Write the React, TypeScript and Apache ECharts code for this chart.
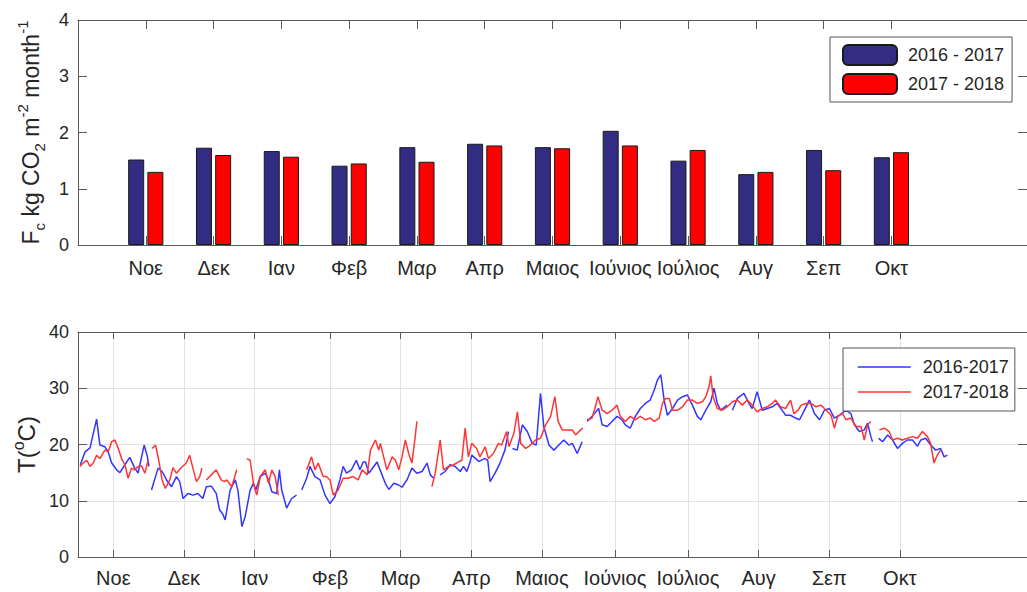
import React, { useEffect, useRef } from 'react';
import * as echarts from 'echarts';

const MONTHS = ['Νοε', 'Δεκ', 'Ιαν', 'Φεβ', 'Μαρ', 'Απρ', 'Μαιος', 'Ιούνιος', 'Ιούλιος', 'Αυγ', 'Σεπ', 'Οκτ'];
const FC_POS = [1, 2, 3, 4, 5, 6, 7, 8, 9, 10, 11, 12];
const FC_2016_2017 = [1.52, 1.73, 1.67, 1.41, 1.74, 1.80, 1.74, 2.03, 1.50, 1.26, 1.69, 1.56];
const FC_2017_2018 = [1.30, 1.60, 1.57, 1.45, 1.48, 1.77, 1.72, 1.77, 1.69, 1.30, 1.33, 1.65];
const T_TICK_DAYS = [15, 45, 75, 107, 137, 167, 197, 228, 259, 289, 319, 349];

// [day since start, temperature °C]; null = gap in record
const T_2016_2017: [number, number | null][] = [
  [1, 16.4], [3, 18.7], [5.1, 19.4], [7.9, 24.5], [9.3, 19.9], [11.4, 19.6], [12.8, 18.7], [14.3, 16.7], [16.4, 15.5], [17.8, 15.0],
  [19.9, 16.4], [22, 17.7], [24.1, 15.8], [25.5, 14.9], [27, 17.8], [28.1, 19.9], [29.5, 17.8], [30.1, 16.1], [30.6, null], [31.2, 11.9],
  [34, 15.8], [35.7, 15.2], [37.6, 13.7], [39.7, 12.5], [41.8, 14.3], [43.2, 13.4], [44.6, 10.4], [46.7, 11.3], [48.8, 11.0], [50.9, 11.3],
  [53, 10.4], [54.5, 12.5], [56.6, 12.6], [58.7, 11.3], [60.1, 8.4], [61.5, 7.6], [62.5, 6.6], [64.6, 11.9], [66.8, 13.7], [67.9, 11.9],
  [69.6, 5.4], [71, 7.2], [73.1, 11.9], [74.5, 13.1], [75.5, 11.9], [77.4, 14.3], [79.5, 14.9], [80.9, 13.7], [82.3, 11.6], [84.4, 11.3],
  [85.5, 15.5], [86.5, 11.9], [88.6, 8.7], [90.7, 10.4], [92.8, 11.0], [93.9, null], [95, 11.9], [97.1, 14.0], [98.5, 16.1], [100.6, 14.3],
  [102.8, 13.7], [104.9, 11.0], [107, 9.5], [109.1, 10.7], [111.2, 13.7], [112.6, 16.1], [114, 14.9], [116.1, 15.5], [118.2, 17.2], [119.7, 15.5],
  [121.1, 16.9], [122.1, 16.9], [123.5, 14.9], [125.6, 16.1], [127, 16.9], [129.1, 14.6], [130.5, 13.1], [132, 12.0], [134.1, 13.1], [136.2, 12.8],
  [137.6, 12.4], [139.7, 13.7], [141.8, 15.8], [143.9, 14.9], [146.1, 15.2], [148.2, 16.7], [149.6, 14.6], [151, 14.0], [152.4, null], [153.8, 14.6],
  [155.9, 15.2], [158, 16.4], [160.2, 16.1], [162.3, 15.2], [163.7, 16.1], [165.1, 15.2], [166.5, 16.9], [167.2, 18.1], [170.2, 17.0], [172.7, 17.5],
  [174, 17.2], [175, 13.4], [177.1, 14.9], [179.2, 16.7], [181.3, 19.0], [182.8, 22.3], [183.6, null], [184.5, 19.3], [186.5, 19.0], [188.7, 23.5],
  [190.8, 22.3], [192.9, 20.2], [194.6, 19.9], [196.4, 29.1], [197.8, 23.2], [200, 19.9], [202.1, 19.0], [204.2, 19.9], [206.3, 20.8], [208.4, 19.9],
  [209.9, 20.2], [212, 18.4], [214.1, 20.5], [215.1, null], [216.2, 24.1], [218.3, 25.0], [221.1, 26.4], [222.6, 23.5], [224.7, 23.2], [226.8, 24.1],
  [228.9, 25.0], [231, 24.4], [232.4, 23.5], [234.5, 22.9], [236.7, 25.0], [238.8, 26.4], [240.9, 27.3], [243, 27.9], [244.7, 29.7], [246.1, 31.5],
  [247.5, 32.4], [248.9, 27.9], [250.3, 25.2], [252.5, 26.4], [254.6, 27.9], [256.7, 28.5], [258.8, 28.8], [260.9, 27.0], [263, 25.0], [264.5, 24.4],
  [266.6, 26.1], [268.7, 27.6], [270.1, 30.0], [271.5, 27.3], [272.9, 26.1], [275.7, 27.0], [276.8, null], [277.9, 26.1], [280, 28.2], [282.8, 29.1],
  [284.9, 27.3], [286.3, 26.4], [288.4, 29.4], [290.6, 26.1], [292.7, 26.4], [294.8, 26.7], [296.9, 27.3], [299, 26.1], [300.5, 25.2], [302.6, 25.2],
  [304.7, 24.7], [306.4, 24.4], [308.5, 26.1], [310.6, 27.9], [312.7, 25.5], [314.9, 24.4], [317, 26.1], [319.1, 26.4], [321.2, 24.7], [323.3, 25.2],
  [326.1, 26.1], [328.2, 25.5], [329.7, 23.5], [331.8, 22.3], [333.9, 22.6], [335.3, 23.8], [336.7, 21.4], [337.4, 20.5], [338.7, null], [340, 21.1],
  [341.7, 20.5], [343.8, 21.7], [345.9, 20.8], [348, 19.3], [350.1, 20.2], [352.2, 20.8], [354.4, 20.8], [356.5, 19.7], [357.9, 20.8], [360, 21.1],
  [362.1, 19.9], [364.2, 19.0], [366.3, 19.3], [367.8, 17.8], [369.2, 18.1],
];

const T_2017_2018: [number, number | null][] = [
  [0.8, 16.1], [2.2, 16.7], [3.7, 17.2], [5.1, 16.1], [6.5, 16.7], [7.9, 18.1], [9.3, 17.5], [11.4, 19.0], [12.8, 18.7], [14.3, 20.5],
  [15.7, 20.8], [17.1, 19.3], [18.5, 17.5], [19.9, 16.4], [21.3, 14.0], [22.7, 15.8], [24.1, 15.5], [25.5, 16.1], [27, 16.2], [28.4, 14.9],
  [29.8, 17.2], [30.6, null], [31.5, 19.3], [32.9, 19.9], [34.3, 17.2], [35.7, 13.7], [37.1, 12.2], [39, 13.7], [40.3, 15.9], [41.8, 14.9],
  [43.9, 15.9], [46, 16.7], [47.4, 18.1], [48.8, 15.8], [50.3, 13.4], [51.7, 14.3], [52.6, 15.8], [53.5, null], [54.5, 13.7], [56.6, 14.6],
  [58.7, 15.5], [60.8, 13.7], [62.2, 13.4], [63.2, 13.7], [65.3, 12.5], [67.4, 15.5], [69.5, null], [71.7, 17.5], [73.1, 17.2], [74.5, 13.1],
  [75.9, 11.0], [77.4, 14.3], [79.5, 15.5], [80.9, 13.1], [82.3, 15.5], [83.7, 14.3], [85.1, 11.0], [90, null], [97.1, 15.5], [99.2, 17.8],
  [100.6, 15.5], [102, 16.7], [104.1, 14.3], [105.5, 14.3], [107, 13.7], [108.4, 11.0], [110.5, 11.9], [112.6, 14.0], [114.7, 14.0], [116.8, 14.3],
  [119, 13.7], [120.7, 15.5], [122.8, 14.6], [124.2, 19.0], [126.3, 20.8], [127.7, 19.0], [128.4, 20.2], [129.8, 17.8], [131.2, 15.5], [133.4, 17.8],
  [134.8, 17.2], [136.2, 15.5], [137.6, 17.8], [139, 20.8], [140.4, 18.4], [141.8, 16.7], [143.2, 21.4], [143.9, 24.1], [147, null], [150.3, 12.5],
  [151.7, 14.9], [153.8, 20.8], [155.2, 15.5], [157.4, 16.1], [159.5, 16.4], [161.6, 16.9], [163, 17.2], [164.4, 22.9], [165.8, 17.8], [167.2, 20.2],
  [169.3, 19.3], [170.7, 17.8], [172.9, 19.6], [174.3, 17.5], [176.4, 18.4], [178.5, 20.2], [179.9, 19.9], [182, 22.3], [183, 19.6], [185.1, 22.0],
  [186.6, 25.8], [188, 20.2], [190.1, 19.3], [192.2, 19.9], [194.3, 20.8], [196.4, 21.1], [198.6, 23.5], [200.7, 25.0], [202.5, 28.5], [203.9, 24.1],
  [205.6, 22.6], [207.7, 22.6], [209.9, 22.6], [211.3, 21.7], [213.4, 22.6], [214.4, 22.9], [215.3, null], [216.2, 24.4], [218.3, 24.7], [219.7, 26.7],
  [220.8, 28.5], [222.6, 26.1], [224.7, 25.5], [226.8, 26.1], [228.9, 27.0], [230.3, 25.0], [232.4, 24.1], [234.5, 25.0], [236.7, 24.4], [238.8, 25.0],
  [240.9, 24.4], [243, 24.7], [244.7, 24.1], [246.8, 24.7], [248.2, 27.3], [249.6, 28.2], [251.1, 28.2], [252.5, 26.1], [254.6, 26.1], [256.7, 26.7],
  [258.8, 27.9], [260.9, 27.9], [263, 27.3], [265.2, 27.6], [266.6, 28.5], [268, 30.3], [268.7, 32.2], [269.7, 28.5], [271.5, 26.4], [273.6, 26.1],
  [275.7, 26.7], [277.9, 27.6], [280, 27.9], [282.1, 27.0], [284.2, 27.9], [286.3, 27.0], [288.4, 25.8], [290.6, 26.4], [292.7, 26.7], [294.8, 27.3],
  [296.2, 27.9], [298.3, 26.7], [300.5, 26.4], [302.6, 27.9], [304, 25.5], [305.8, 26.1], [307.1, 27.0], [309.2, 27.3], [311.3, 27.3], [313.4, 26.7],
  [315.5, 27.0], [317.7, 26.1], [319.8, 25.2], [321.2, 22.9], [322.6, 25.0], [324.7, 25.5], [326.1, 24.4], [328.2, 24.7], [330.4, 23.2], [332.5, 23.2],
  [333.9, 20.8], [335.3, 23.5], [336.7, 24.1], [338.5, null], [340.3, 22.6], [342.4, 22.9], [344.5, 22.3], [345.9, 20.8], [348, 21.1], [350.1, 20.8],
  [352.2, 21.1], [354.4, 21.4], [356.5, 21.1], [358.6, 22.3], [360.7, 21.4], [362.1, 20.2], [363.5, 16.7], [364.9, 18.1], [366.3, 19.0],
];

export default function App() {
  const ref = useRef<HTMLDivElement>(null);

  useEffect(() => {
    if (!ref.current) return;
    const chart = echarts.init(ref.current, null, { renderer: 'svg' });
    const font = '"Liberation Sans", Arial, sans-serif';
    const axisColor = '#5a5a5a';
    const textColor = '#262626';
    const gridColor = '#e3e3e3';
    const toLine = (arr: [number, number | null][]) => arr.map(([d, v]) => [d, v === null ? '-' : v]);
    const fcLabel = (v: number) => {
      const i = FC_POS.indexOf(v);
      return i >= 0 ? MONTHS[i] : '';
    };
    const tLabel = (v: number) => {
      const i = T_TICK_DAYS.indexOf(v);
      return i >= 0 ? MONTHS[i] : '';
    };
    const line = { show: true, onZero: false, lineStyle: { color: axisColor, width: 1 } };
    const tickStyle = { color: axisColor, width: 1 };
    const yLabelStyle = { fontSize: 18, color: textColor, fontFamily: font };
    const xLabelStyle = { fontSize: 20, color: textColor, fontFamily: font };
    const richName = (main: number, small: number) => ({
      m: { fontSize: main, color: textColor, fontFamily: font, lineHeight: 32, verticalAlign: 'middle' as const },
      s: { fontSize: small, color: textColor, fontFamily: font, lineHeight: 32, verticalAlign: 'bottom' as const },
      p: { fontSize: small, color: textColor, fontFamily: font, lineHeight: 32, verticalAlign: 'top' as const },
    });

    chart.setOption({
      animation: false,
      backgroundColor: '#ffffff',
      textStyle: { fontFamily: font },
      grid: [
        { left: 78, top: 20, width: 953, height: 225 },
        { left: 78, top: 332, width: 952, height: 225 },
      ],
      xAxis: [
        {
          gridIndex: 0, type: 'value', min: 0, max: 14, position: 'bottom',
          axisLine: line,
          axisTick: { show: true, inside: true, length: 9, customValues: FC_POS, lineStyle: tickStyle },
          axisLabel: { ...xLabelStyle, customValues: FC_POS, formatter: fcLabel, margin: 13 },
          splitLine: { show: false },
        },
        {
          gridIndex: 0, type: 'value', min: 0, max: 14, position: 'top',
          axisLine: line,
          axisTick: { show: true, inside: true, length: 9, customValues: FC_POS, lineStyle: tickStyle },
          axisLabel: { show: false },
          splitLine: { show: false },
        },
        {
          gridIndex: 1, type: 'value', min: 0, max: 403, position: 'bottom',
          axisLine: line,
          axisTick: { show: true, inside: true, length: 7, customValues: T_TICK_DAYS, lineStyle: tickStyle },
          axisLabel: { ...xLabelStyle, customValues: T_TICK_DAYS, formatter: tLabel, margin: 11 },
          splitLine: { show: true, lineStyle: { color: gridColor, width: 1 } },
        },
        {
          gridIndex: 1, type: 'value', min: 0, max: 403, position: 'top',
          axisLine: line,
          axisTick: { show: true, inside: true, length: 7, customValues: T_TICK_DAYS, lineStyle: tickStyle },
          axisLabel: { show: false },
          splitLine: { show: false },
        },
      ],
      yAxis: [
        {
          gridIndex: 0, type: 'value', min: 0, max: 4, interval: 1, position: 'left',
          axisLine: line,
          axisTick: { show: true, inside: true, length: 9, lineStyle: tickStyle },
          axisLabel: { ...yLabelStyle, margin: 9 },
          splitLine: { show: false },
          name: '{m|F}{s|c}{m| kg CO}{s|2}{m| m}{p|-2}{m| month}{p|-1}',
          nameLocation: 'middle', nameRotate: 90, nameGap: 31,
          nameTextStyle: { rich: richName(23, 15) },
        },
        {
          gridIndex: 0, type: 'value', min: 0, max: 4, interval: 1, position: 'right',
          axisLine: line,
          axisTick: { show: true, inside: true, length: 9, lineStyle: tickStyle },
          axisLabel: { show: false },
          splitLine: { show: false },
        },
        {
          gridIndex: 1, type: 'value', min: 0, max: 40, interval: 10, position: 'left',
          axisLine: line,
          axisTick: { show: true, inside: true, length: 9, lineStyle: tickStyle },
          axisLabel: { ...yLabelStyle, margin: 9 },
          splitLine: { show: true, lineStyle: { color: gridColor, width: 1 } },
          name: '{m|T(}{p|o}{m|C)}',
          nameLocation: 'middle', nameRotate: 90, nameGap: 34,
          nameTextStyle: { rich: richName(24, 16) },
        },
        {
          gridIndex: 1, type: 'value', min: 0, max: 40, interval: 10, position: 'right',
          axisLine: line,
          axisTick: { show: true, inside: true, length: 9, lineStyle: tickStyle },
          axisLabel: { show: false },
          splitLine: { show: false },
        },
      ],
      legend: [
        {
          data: ['2016 - 2017', '2017 - 2018'],
          orient: 'vertical', left: 830, top: 37,
          padding: [7, 8, 7, 12], itemWidth: 54, itemHeight: 20, itemGap: 7,
          backgroundColor: '#ffffff', borderColor: '#555555', borderWidth: 1,
          textStyle: { fontSize: 18, color: textColor, fontFamily: font, padding: [0, 0, 0, 6] },
          selectedMode: false,
        },
        {
          data: ['2016-2017', '2017-2018'],
          orient: 'vertical', left: 843, top: 348,
          padding: [10, 6, 10, 14], itemWidth: 53, itemHeight: 18, itemGap: 7,
          backgroundColor: '#ffffff', borderColor: '#555555', borderWidth: 1,
          itemStyle: { opacity: 0 },
          lineStyle: { width: 1.5 },
          textStyle: { fontSize: 18, color: textColor, fontFamily: font, padding: [0, 0, 0, 7] },
          selectedMode: false,
        },
      ],
      series: [
        {
          name: '2016 - 2017', type: 'bar', xAxisIndex: 0, yAxisIndex: 0,
          barWidth: 16, barGap: '20%',
          itemStyle: { color: '#322D82', borderColor: '#1a1a1a', borderWidth: 1 },
          data: FC_POS.map((p, i) => [p, FC_2016_2017[i]]),
        },
        {
          name: '2017 - 2018', type: 'bar', xAxisIndex: 0, yAxisIndex: 0,
          barWidth: 16, barGap: '20%',
          itemStyle: { color: '#FF0000', borderColor: '#1a1a1a', borderWidth: 1 },
          data: FC_POS.map((p, i) => [p, FC_2017_2018[i]]),
        },
        {
          name: '2016-2017', type: 'line', xAxisIndex: 2, yAxisIndex: 2,
          symbol: 'none', connectNulls: false,
          lineStyle: { color: '#3535ff', width: 1.5 }, itemStyle: { color: '#3535ff' },
          data: toLine(T_2016_2017),
        },
        {
          name: '2017-2018', type: 'line', xAxisIndex: 2, yAxisIndex: 2,
          symbol: 'none', connectNulls: false,
          lineStyle: { color: '#ff3535', width: 1.5 }, itemStyle: { color: '#ff3535' },
          data: toLine(T_2017_2018),
        },
      ],
    });

    return () => chart.dispose();
  }, []);

  return (
    <div
      ref={ref}
      style={{ position: 'fixed', left: 0, top: 0, width: 1027, height: 592, background: '#fff' }}
    />
  );
}
